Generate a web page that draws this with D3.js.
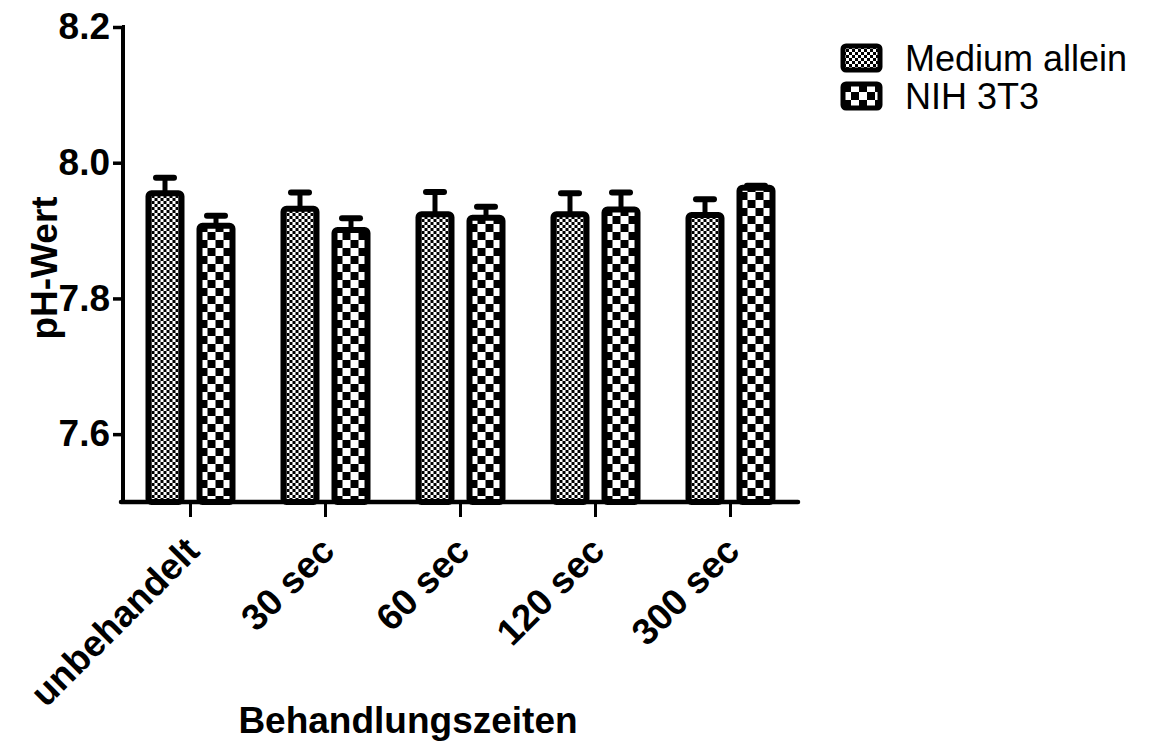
<!DOCTYPE html>
<html>
<head>
<meta charset="utf-8">
<script src="https://cdn.jsdelivr.net/npm/d3@7"></script>
<style>
  html, body { margin: 0; padding: 0; background: #fff; }
  svg { display: block; }
  text { font-family: "Liberation Sans", Arial, sans-serif; fill: #000; }
</style>
</head>
<body>
<svg id="chart" width="1150" height="754"></svg>
<script>
// pH values per treatment time, mean and SEM
const categories = ["unbehandelt", "30 sec", "60 sec", "120 sec", "300 sec"];
const seriesNames = ["Medium allein", "NIH 3T3"];
const mediumMean = [7.955, 7.932, 7.924, 7.924, 7.923];
const mediumSem  = [0.023, 0.024, 0.033, 0.031, 0.023];
const nihMean    = [7.907, 7.901, 7.919, 7.931, 7.963];
const nihSem     = [0.015, 0.017, 0.016, 0.025, 0.003];
const yTicks = [7.6, 7.8, 8.0, 8.2];
const yLabel = "pH-Wert";
const xLabel = "Behandlungszeiten";

const rows = [];
categories.forEach((c, i) => {
  rows.push({ cat: c, series: seriesNames[0], mean: mediumMean[i], sem: mediumSem[i] });
  rows.push({ cat: c, series: seriesNames[1], mean: nihMean[i], sem: nihSem[i] });
});

const svg = d3.select("#chart");
const plot = { left: 123, right: 798, top: 27, bottom: 502 };

// fill patterns: fine checker for medium only, coarse checker for cells
const defs = svg.append("defs");
function checker(id, cell) {
  const p = defs.append("pattern")
    .attr("id", id).attr("patternUnits", "userSpaceOnUse")
    .attr("width", cell * 2).attr("height", cell * 2);
  p.append("rect").attr("width", cell * 2).attr("height", cell * 2).attr("fill", "#fff");
  p.append("rect").attr("width", cell).attr("height", cell).attr("fill", "#000");
  p.append("rect").attr("x", cell).attr("y", cell).attr("width", cell).attr("height", cell).attr("fill", "#000");
}
checker("fineChecker", 3);
checker("coarseChecker", 8);
const fillFor = { "Medium allein": "url(#fineChecker)", "NIH 3T3": "url(#coarseChecker)" };

const x0 = d3.scaleBand().domain(categories).range([plot.left, plot.right]).padding(0);
const bw = x0.bandwidth();
const x1 = d3.scaleBand().domain(seriesNames)
  .range([bw / 2 - 42, bw / 2 + 42]).paddingInner(0.353).paddingOuter(0);
const y = d3.scaleLinear().domain([7.5, 8.2]).range([plot.bottom, plot.top]);

// bars
const groups = svg.append("g").selectAll("g")
  .data(rows).join("g")
  .attr("transform", d => `translate(${x0(d.cat) + x1(d.series)},0)`);

// error bars (upper half only; the lower half is covered by the bar)
groups.append("line")
  .attr("x1", x1.bandwidth() / 2).attr("x2", x1.bandwidth() / 2)
  .attr("y1", d => y(d.mean)).attr("y2", d => y(d.mean + d.sem))
  .attr("stroke", "#000").attr("stroke-width", 5);
groups.append("line")
  .attr("x1", x1.bandwidth() / 2 - 9).attr("x2", x1.bandwidth() / 2 + 9)
  .attr("y1", d => y(d.mean + d.sem)).attr("y2", d => y(d.mean + d.sem))
  .attr("stroke", "#000").attr("stroke-width", 6).attr("stroke-linecap", "round");

groups.append("rect")
  .attr("x", 0).attr("width", x1.bandwidth())
  .attr("y", d => y(d.mean)).attr("height", d => y(7.5) - y(d.mean))
  .attr("rx", 3)
  .attr("fill", d => fillFor[d.series])
  .attr("stroke", "#000").attr("stroke-width", 6);

// y axis
const yAxis = svg.append("g")
  .attr("transform", `translate(${plot.left},0)`)
  .call(d3.axisLeft(y).tickValues(yTicks).tickFormat(d3.format(".1f")).tickSize(10).tickPadding(3))
  .call(g => g.select(".domain").attr("d", `M-1,${plot.top}H0V${plot.bottom + 2}`))
  .attr("stroke-width", 3.5);
yAxis.select(".domain").attr("stroke-width", 4);
yAxis.selectAll("text")
  .attr("font-size", 37).attr("font-weight", "bold")
  .attr("font-family", "Liberation Sans, Arial, sans-serif");

// x axis
const xAxis = svg.append("g")
  .attr("transform", `translate(0,${plot.bottom})`)
  .call(d3.axisBottom(x0).tickSize(15).tickFormat(""))
  .call(g => g.select(".domain").attr("d", `M${plot.left - 2},0H${plot.right}`))
  .attr("stroke-width", 3);
xAxis.select(".domain").attr("stroke-width", 4.5).attr("stroke-linecap", "round");

// rotated category labels
svg.append("g").selectAll("text")
  .data(categories).join("text")
  .attr("transform", d => `translate(${x0(d) + bw / 2 + 11},553) rotate(-45)`)
  .attr("text-anchor", "end")
  .attr("font-size", 37).attr("font-weight", "bold")
  .text(d => d);

// axis titles
svg.append("text")
  .attr("transform", "translate(57,268) rotate(-90)")
  .attr("text-anchor", "middle")
  .attr("font-size", 37).attr("font-weight", "bold")
  .text(yLabel);
svg.append("text")
  .attr("x", 408).attr("y", 733)
  .attr("text-anchor", "middle")
  .attr("font-size", 37).attr("font-weight", "bold")
  .text(xLabel);

// legend
const legend = svg.append("g").selectAll("g")
  .data(seriesNames).join("g")
  .attr("transform", (d, i) => `translate(843,${46 + i * 38})`);
legend.append("rect")
  .attr("width", 37).attr("height", 24).attr("rx", 3)
  .attr("fill", d => fillFor[d])
  .attr("stroke", "#000").attr("stroke-width", 5);
legend.append("text")
  .attr("x", 62).attr("y", 25)
  .attr("font-size", 36)
  .text(d => d);
</script>
</body>
</html>
